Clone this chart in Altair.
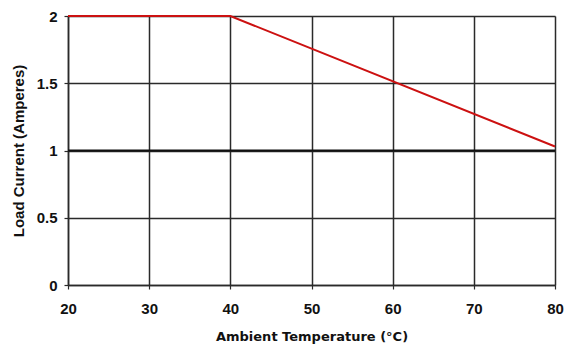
import altair as alt
import pandas as pd

temps = [20, 40, 80]
currents = [2.0, 2.0, 1.03]
x_ticks = [20, 30, 40, 50, 60, 70, 80]
y_ticks = [0, 0.5, 1, 1.5, 2]

df = pd.DataFrame({"t": temps, "i": currents})
ref = pd.DataFrame({"y": [1]})

FONT = "Liberation Sans"
XTFONT = "DejaVu Sans"

x = alt.X("t:Q", scale=alt.Scale(domain=[20, 80], nice=False),
          axis=alt.Axis(values=x_ticks, title="Ambient Temperature (°C)",
                        grid=True, gridColor="#2a2a2a", gridWidth=1.5,
                        domainColor="#2a2a2a", domainWidth=1.5,
                        tickColor="#2a2a2a", tickSize=4, tickWidth=1.2,
                        labelFlush=False, labelOverlap=False,
                        labelFont=FONT, labelFontSize=15, labelFontWeight="bold",
                        labelColor="#111", labelPadding=12,
                        titleFont=XTFONT, titleFontSize=13, titleFontWeight="bold",
                        titleColor="#111", titlePadding=14))
y = alt.Y("i:Q", scale=alt.Scale(domain=[0, 2], nice=False),
          axis=alt.Axis(values=y_ticks, title="Load Current (Amperes)",
                        labelExpr="format(datum.value, '~g')",
                        grid=True, gridColor="#2a2a2a", gridWidth=1.5,
                        domainColor="#2a2a2a", domainWidth=1.5,
                        tickColor="#2a2a2a", tickSize=4, tickWidth=1.2,
                        labelFlush=False, labelOverlap=False,
                        labelFont=FONT, labelFontSize=15, labelFontWeight="bold",
                        labelColor="#111", labelPadding=7,
                        titleFont=FONT, titleFontSize=15, titleFontWeight="bold",
                        titleColor="#111", titlePadding=10))

line = alt.Chart(df).mark_line(color="#cc1111", strokeWidth=2).encode(x=x, y=y)
rule = alt.Chart(ref).mark_rule(color="#111", strokeWidth=2.2).encode(
    y=alt.Y("y:Q", scale=alt.Scale(domain=[0, 2], nice=False)))

chart = alt.layer(rule, line).properties(
    width=487, height=269,
    autosize=alt.AutoSizeParams(type="none"),
    padding={"left": 68, "top": 16, "right": 9, "bottom": 60},
).configure_view(stroke="#2a2a2a", strokeWidth=1.5).configure(background="white")

chart.save("out.html", embed_options={"renderer": "svg", "actions": False})
